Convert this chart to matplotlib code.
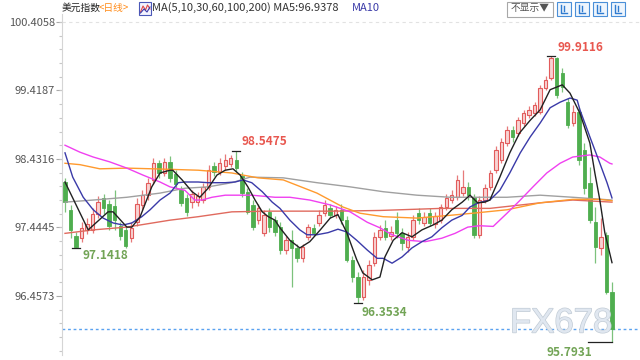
import matplotlib

matplotlib.use("Agg")
import matplotlib.pyplot as plt
import matplotlib.patheffects as pe
from matplotlib.patches import Rectangle
from matplotlib.lines import Line2D
from matplotlib.ticker import FixedLocator
import numpy as np

plt.rcParams["font.family"] = ["Noto Sans CJK SC", "DejaVu Sans"]

# daily candles, oldest first
OPEN = [98.10, 97.70, 97.32, 97.29, 97.41, 97.41, 97.64, 97.87, 97.78, 97.75,
        97.47, 97.41, 97.29, 97.52, 97.77, 97.91, 98.13, 98.37, 98.23, 98.39,
        98.22, 97.98, 97.87, 97.81, 97.81, 97.84, 98.03, 98.33, 98.24, 98.33,
        98.36, 98.42, 98.19, 97.96, 97.77, 97.55, 97.36, 97.67, 97.55, 97.45,
        97.12, 97.26, 97.15, 97.01, 97.31, 97.44, 97.51, 97.65, 97.73, 97.63,
        97.70, 97.55, 96.98, 96.73, 96.44, 96.69, 96.93, 97.31, 97.44, 97.32,
        97.55, 97.36, 97.16, 97.31, 97.65, 97.51, 97.65, 97.50, 97.55, 97.74,
        97.84, 97.88, 97.94, 98.03, 97.88, 97.34, 97.84, 98.03, 98.27, 98.42,
        98.66, 98.85, 98.81, 98.95, 99.07, 99.09, 99.11, 99.46, 99.60, 99.89,
        99.67, 99.25, 98.95, 99.11, 98.56, 98.09, 97.52, 97.15, 97.34, 96.52]
CLOSE = [97.81, 97.41, 97.16, 97.44, 97.50, 97.64, 97.81, 97.73, 97.47, 97.55,
         97.32, 97.18, 97.44, 97.78, 97.91, 98.09, 98.37, 98.23, 98.39, 98.16,
         98.07, 97.80, 97.67, 97.93, 97.90, 98.03, 98.27, 98.24, 98.37, 98.42,
         98.45, 98.30, 97.94, 97.67, 97.45, 97.73, 97.62, 97.45, 97.38, 97.12,
         97.26, 97.15, 97.01, 97.16, 97.45, 97.36, 97.63, 97.77, 97.63, 97.70,
         97.55, 96.98, 96.73, 96.44, 96.73, 96.90, 97.31, 97.41, 97.31, 97.38,
         97.36, 97.22, 97.31, 97.55, 97.55, 97.60, 97.51, 97.61, 97.74, 97.87,
         97.91, 98.13, 98.03, 97.91, 97.34, 97.84, 98.01, 98.23, 98.56, 98.68,
         98.85, 98.75, 98.99, 99.09, 99.14, 99.21, 99.46, 99.57, 99.89, 99.35,
         99.47, 98.92, 99.11, 98.42, 98.01, 97.55, 97.16, 97.31, 96.52, 95.98]
HIGH = [98.16, 97.77, 97.38, 97.52, 97.58, 97.73, 97.90, 97.93, 97.84, 97.98,
        97.52, 97.47, 97.52, 97.87, 97.98, 98.16, 98.45, 98.42, 98.45, 98.47,
        98.27, 98.04, 97.93, 97.98, 97.96, 98.09, 98.35, 98.39, 98.45, 98.50,
        98.49, 98.5475, 98.24, 98.01, 97.84, 97.78, 97.70, 97.73, 97.61, 97.52,
        97.32, 97.41, 97.21, 97.21, 97.50, 97.50, 97.70, 97.84, 97.78, 97.75,
        97.78, 97.61, 97.03, 96.80, 96.83, 96.98, 97.38, 97.48, 97.55, 97.47,
        97.67, 97.44, 97.38, 97.62, 97.73, 97.67, 97.73, 97.67, 97.78, 97.93,
        97.98, 98.20, 98.27, 98.10, 97.93, 97.90, 98.07, 98.27, 98.62, 98.73,
        98.91, 98.91, 99.04, 99.14, 99.20, 99.25, 99.50, 99.63, 99.9116, 99.90,
        99.74, 99.31, 99.21, 99.17, 98.66, 98.32, 97.74, 97.58, 97.38, 96.66]
LOW = [97.67, 97.29, 97.1418, 97.24, 97.35, 97.36, 97.58, 97.64, 97.41, 97.41,
       97.26, 97.15, 97.24, 97.47, 97.70, 97.84, 98.07, 98.16, 98.19, 98.10,
       98.01, 97.75, 97.61, 97.73, 97.75, 97.80, 97.98, 98.19, 98.20, 98.27,
       98.32, 98.24, 97.88, 97.64, 97.41, 97.50, 97.32, 97.38, 97.32, 97.06,
       97.06, 96.59, 96.95, 96.95, 97.26, 97.32, 97.47, 97.61, 97.58, 97.58,
       97.50, 96.95, 96.66, 96.3534, 96.40, 96.62, 96.89, 97.26, 97.26, 97.26,
       97.29, 97.12, 97.09, 97.26, 97.50, 97.47, 97.47, 97.44, 97.51, 97.70,
       97.80, 97.84, 97.90, 97.84, 97.29, 97.29, 97.80, 97.98, 98.23, 98.37,
       98.62, 98.68, 98.76, 98.91, 99.02, 99.05, 99.08, 99.43, 99.57, 99.31,
       99.40, 98.88, 98.91, 98.35, 97.93, 97.51, 96.93, 97.05, 96.49, 95.7931]

# moving averages (bar index, value)
MA5_X = [0, 4.2, 7.8, 8.7, 11.2, 12.1, 13.6, 15.7, 17.2, 19, 19.5, 21.2, 23, 24.4, 25.9,
         27.5, 29, 30.4, 31.7, 33.1, 34.4, 35.7, 36.8, 38, 38.9, 40.7, 42.5, 44.3, 46.2,
         48, 49.4, 51, 52.8, 53.9, 55.6, 57, 57.9, 59.4, 61, 62.8, 64.6, 66.6, 68.2, 70,
         71.9, 73.3, 74.7, 76, 76.9, 78.7, 80.5, 82.3, 84.2, 86, 87.8, 90, 91.4, 93.2,
         95, 95.9, 96.8, 97.7, 99]
MA5_Y = [98.10, 97.41, 97.67, 97.67, 97.45, 97.45, 97.60, 98.03, 98.23, 98.27, 98.27,
         98.13, 97.96, 97.88, 98.01, 98.20, 98.27, 98.29, 98.20, 98.03, 97.84, 97.67,
         97.60, 97.55, 97.44, 97.26, 97.15, 97.24, 97.41, 97.58, 97.63, 97.37, 96.98,
         96.79, 96.69, 96.73, 97.02, 97.26, 97.37, 97.31, 97.41, 97.48, 97.55, 97.70,
         97.81, 97.91, 97.80, 97.81, 97.84, 98.17, 98.52, 98.81, 98.99, 99.14, 99.43,
         99.50, 99.38, 99.09, 98.66, 98.23, 97.84, 97.37, 96.9378]
MA10_X = [0, 1.4, 3.3, 5.1, 6.9, 8.7, 10.5, 12.1, 13.9, 15.4, 17.2, 19, 20.5, 21.7, 24.1,
          25.9, 29, 30.8, 32.2, 33.8, 35.7, 37.5, 38.9, 40.7, 42.5, 43.8, 45.6, 47.6,
          49.4, 51, 52.8, 54.7, 56.5, 57.6, 59.2, 61, 62.8, 64.6, 66.4, 68.2, 70, 71.9,
          73.3, 74.8, 76.9, 78.7, 80.5, 82.4, 84.2, 86, 87.8, 89.6, 91.4, 92.7, 93.2,
          95, 96.8, 98.1, 99]
MA10_Y = [98.52, 98.17, 97.88, 97.70, 97.58, 97.51, 97.48, 97.51, 97.60, 97.70, 97.84,
          97.94, 98.09, 98.10, 98.10, 98.09, 98.09, 98.10, 98.13, 98.09, 97.96, 97.81,
          97.72, 97.55, 97.41, 97.34, 97.34, 97.37, 97.42, 97.38, 97.26, 97.12, 97.00,
          97.00, 96.93, 97.02, 97.15, 97.24, 97.31, 97.44, 97.55, 97.62, 97.74, 97.80,
          97.84, 97.98, 98.23, 98.52, 98.75, 98.95, 99.17, 99.25, 99.31, 99.28, 99.14,
          98.75, 98.37, 98.09, 97.87]
MA30_X = [0, 2.7, 5.1, 8.1, 11.2, 14.1, 17.2, 19, 21.7, 23.5, 24.8, 26.6, 29, 33.8, 38,
          40.7, 44.3, 48, 51.6, 54.7, 57, 59.2, 62.1, 65.2, 68.2, 70.6, 72.9, 75, 77.5,
          80, 82.4, 84.7, 87.2, 89.6, 91.9, 95, 96.8, 98.6, 99]
MA30_Y = [98.63, 98.53, 98.46, 98.39, 98.30, 98.20, 98.10, 98.03, 97.98, 97.84, 97.84,
          97.88, 97.91, 97.91, 97.88, 97.88, 97.84, 97.77, 97.67, 97.52, 97.44, 97.34,
          97.26, 97.24, 97.29, 97.36, 97.45, 97.47, 97.46, 97.65, 97.84, 98.03, 98.23,
          98.37, 98.46, 98.49, 98.46, 98.37, 98.36]
MA60_X = [0, 2.7, 6.3, 11.2, 15.9, 24.1, 30.2, 34.9, 39.5, 45.6, 50.3, 53.4, 57.6, 63.7,
          69.7, 73.8, 80, 86, 91.9, 96.7, 99]
MA60_Y = [98.37, 98.35, 98.29, 98.30, 98.29, 98.27, 98.23, 98.16, 98.13, 97.94, 97.74,
          97.65, 97.60, 97.58, 97.62, 97.65, 97.70, 97.80, 97.85, 97.85, 97.83]
MA100_X = [0, 5.1, 11.2, 17.2, 21.7, 25.9, 30.2, 33.5, 39.5, 45.6, 51.6, 57.6, 63.7, 69.7,
           80, 86, 91.9, 99]
MA100_Y = [97.81, 97.84, 97.88, 97.94, 98.01, 98.03, 98.09, 98.17, 98.16, 98.09, 98.03,
           97.96, 97.91, 97.88, 97.88, 97.91, 97.88, 97.84]
MA200_X = [0, 5.1, 11.2, 19, 24.1, 30.2, 37.1, 49.2, 57, 68.2, 76.9, 86, 91.9, 99]
MA200_Y = [97.36, 97.41, 97.45, 97.55, 97.60, 97.67, 97.68, 97.68, 97.69, 97.72, 97.72,
           97.80, 97.84, 97.81]

Y_TICKS = [100.4058, 99.4187, 98.4316, 97.4445, 96.4573]
LAST_PRICE = 95.98

UP_EDGE = "#e25b5b"
UP_FILL = "#f8d3d3"
DOWN = "#4fae4f"
GREEN_TXT = "#72a456"
RED_TXT = "#e8574f"


def fx(px):
    return px / 640


def fy(py):
    return 1 - py / 360


fig = plt.figure(figsize=(6.4, 3.6), dpi=100)
fig.patch.set_facecolor("white")
ax = fig.add_axes([fx(62), 5 / 360, 578 / 640, 341 / 360])
ax.set_facecolor("white")

x = np.arange(len(CLOSE))
o = np.array(OPEN)
c = np.array(CLOSE)
h = np.array(HIGH)
lo = np.array(LOW)
up = c >= o
body_lo = np.minimum(o, c)
body_h = np.maximum(np.abs(c - o), 0.012)

ax.vlines(x[up], lo[up], h[up], color="#e77a7a", lw=0.9, zorder=2)
ax.vlines(x[~up], lo[~up], h[~up], color="#7cc27c", lw=0.9, zorder=2)
ax.bar(x[up], body_h[up], bottom=body_lo[up], width=0.62, color=UP_FILL,
       edgecolor=UP_EDGE, linewidth=0.8, zorder=3)
ax.bar(x[~up], body_h[~up], bottom=body_lo[~up], width=0.62, color=DOWN,
       edgecolor=DOWN, linewidth=0.6, zorder=3)

ax.plot(MA200_X, MA200_Y, color="#e06a5e", lw=1.0, zorder=4)
ax.plot(MA100_X, MA100_Y, color="#a0a0a0", lw=1.0, zorder=4)
ax.plot(MA60_X, MA60_Y, color="#ff9a2e", lw=1.0, zorder=4)
ax.plot(MA30_X, MA30_Y, color="#f040f0", lw=1.0, zorder=4)
ax.plot(MA10_X, MA10_Y, color="#3a3aa8", lw=1.0, zorder=5)
ax.plot(MA5_X, MA5_Y, color="#222222", lw=1.0, zorder=6)

# current price line and top grid line
ax.axhline(LAST_PRICE, color="#5aa2f0", lw=1.0, ls=(0, (2, 2)), zorder=1)
ax.axhline(Y_TICKS[0], color="#e2e2e2", lw=0.8, ls=(0, (3, 3)), zorder=1)

# extreme markers and labels
i_hi = int(np.argmax(h))
i_lo = int(np.argmin(lo))
marks = [
    (31, HIGH[31], RED_TXT, (5, 9), "left"),
    (i_hi, HIGH[i_hi], RED_TXT, (6, 9), "left"),
    (2, LOW[2], GREEN_TXT, (6, -7), "left"),
    (53, LOW[53], GREEN_TXT, (4, -9), "left"),
]
for i, v, col, off, ha in marks:
    ax.plot([i - 0.75, i + 0.75], [v, v], color="#222222", lw=0.9, zorder=7)
    ax.annotate(f"{v:.4f}", xy=(i, v), xytext=off, textcoords="offset pixels",
                ha=ha, va="center", fontsize=8.5, fontweight="bold", color=col,
                zorder=8)
ax.plot([i_lo - 4.4, i_lo], [LOW[i_lo], LOW[i_lo]], color="#222222", lw=0.9, zorder=7)
ax.annotate(f"{LOW[i_lo]:.4f}", xy=(i_lo, LOW[i_lo]), xytext=(-20, -10),
            textcoords="offset pixels", ha="right", va="center", fontsize=8.5,
            fontweight="bold", color=GREEN_TXT, zorder=8)

ax.set_xlim(-0.543, 104.07)
ax.set_ylim(95.607, 100.521)
ax.set_xticks([])
ax.set_yticks(Y_TICKS)
ax.set_yticklabels([f"{t:.4f}" for t in Y_TICKS])
step = (Y_TICKS[0] - Y_TICKS[1]) / 5
ax.yaxis.set_minor_locator(FixedLocator([Y_TICKS[-1] + k * step for k in range(-5, 26)]))
ax.tick_params(axis="y", which="major", labelsize=8, labelcolor="#555555",
               color="#aaaaaa", length=4, width=0.8, pad=1)
ax.tick_params(axis="y", which="minor", color="#c8c8c8", length=2, width=0.8)
for side in ["top", "right", "bottom"]:
    ax.spines[side].set_visible(False)
ax.spines["left"].set_color("#d5d5d5")
ax.spines["left"].set_linewidth(0.8)

# watermark
fig.text(fx(510), fy(323), "FX678", fontsize=25, family="Liberation Sans",
         color="#e0e7f0", ha="left", va="center", zorder=9,
         path_effects=[pe.withStroke(linewidth=1.0, foreground="#c2ccd6")])

# header
hy = fy(8)
fig.text(fx(62), hy, "美元指数", fontsize=7, color="#222222", va="center")
fig.text(fx(99), hy, "<日线>", fontsize=7, color="#ff8c1a", va="center")
fig.add_artist(Rectangle((fx(139), fy(15)), 12 / 640, 13 / 360, transform=fig.transFigure,
                         facecolor="#f4f4ff", edgecolor="#4a58b8", lw=0.8))
fig.add_artist(Line2D([fx(140.5), fx(143), fx(145.5), fx(147.5), fx(150)],
                      [fy(12), fy(6), fy(10), fy(5), fy(9)], transform=fig.transFigure,
                      color="#e04848", lw=0.8))
fig.add_artist(Line2D([fx(140.5), fx(144), fx(147), fx(150)],
                      [fy(13), fy(9), fy(12), fy(7)], transform=fig.transFigure,
                      color="#3a3aa8", lw=0.8))
fig.text(fx(152), hy, "MA(5,10,30,60,100,200) MA5:96.9378", fontsize=8,
         color="#333333", va="center")
fig.text(fx(352), hy, "MA10", fontsize=8, color="#3a3aa8", va="center")

# toolbar on the right
fig.add_artist(Rectangle((fx(507), fy(17)), 46 / 640, 15 / 360, transform=fig.transFigure,
                         facecolor="white", edgecolor="#a8a8a8", lw=0.8))
fig.text(fx(530), hy, "不显示▼", fontsize=7, color="#555555", ha="center", va="center")
for bx in [557, 575, 593, 611]:
    fig.add_artist(Rectangle((fx(bx), fy(16)), 14 / 640, 14 / 360,
                             transform=fig.transFigure, facecolor="#eef5fd",
                             edgecolor="#4a8fd8", lw=0.8))
    fig.add_artist(Line2D([fx(bx + 4), fx(bx + 4), fx(bx + 10)],
                          [fy(5), fy(13), fy(13)], transform=fig.transFigure,
                          color="#2f7bd0", lw=1.0))
    fig.add_artist(Line2D([fx(bx + 7), fx(bx + 7)], [fy(6), fy(11)],
                          transform=fig.transFigure, color="#2f7bd0", lw=1.0))

fig.savefig("out.png", dpi=100, facecolor="white")
